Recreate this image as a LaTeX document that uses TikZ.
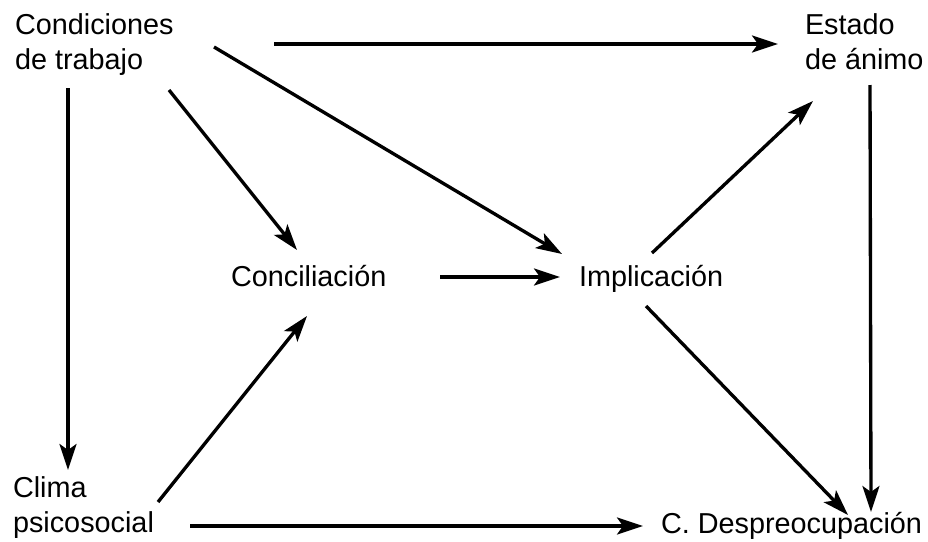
\documentclass[tikz,border=0pt]{standalone}
\usepackage{fontspec}
\setmainfont{Liberation Sans}
\usetikzlibrary{arrows.meta}

\begin{document}
\begin{tikzpicture}[x=0.02cm,y=-0.02cm,
    lbl/.style={inner sep=0pt,outer sep=0pt,align=left,
      font=\fontsize{16.4pt}{19.5pt}\selectfont},
    arr/.style={line width=1.9pt,
      -{Stealth[length=0.52cm,width=0.34cm,inset=0.12cm]}}]
\useasboundingbox (0,0) rectangle (928,541);
            % Vertices
\node[lbl,anchor=north west] (cond)   at (15,14)   {Condiciones\\de trabajo};
\node[lbl,anchor=north west] (estado) at (805,14)  {Estado\\de ánimo};
\node[lbl,anchor=base west]  (conc)   at (231,286) {Conciliación};
\node[lbl,anchor=base west]  (impl)   at (579,286) {Implicación};
\node[lbl,anchor=north west] (clima)  at (13,477)  {Clima\\psicosocial};
\node[lbl,anchor=base west]  (desp)   at (661,533) {C. Despreocupación};
%Edges from Condiciones
\draw[arr] ([shift={(259,30)}]cond.north west) -- ([shift={(-27,30)}]estado.north west);
\draw[arr] ([shift={(199,33)}]cond.north west) -- ([shift={(-17,-32)}]impl.base west);
\draw[arr] ([shift={(154,76)}]cond.north west) -- ([shift={(66,-36)}]conc.base west);
\draw[arr] ([shift={(53,74)}]cond.north west)  -- ([shift={(55,-7)}]clima.north west);
%Edges in the middle
\draw[arr] ([shift={(209,-9)}]conc.base west) -- ([shift={(-19,-9)}]impl.base west);
\draw[arr] ([shift={(73,-33)}]impl.base west) -- ([shift={(8,87)}]estado.north west);
\draw[arr] ([shift={(67,20)}]impl.base west)  -- ([shift={(187,-18)}]desp.base west);
%Edges to C. Despreocupacion
\draw[arr] ([shift={(65,71)}]estado.north west) -- ([shift={(210,-21)}]desp.base west);
\draw[arr] ([shift={(145,25)}]clima.north west) -- ([shift={(76,30)}]conc.base west);
\draw[arr] ([shift={(177,49)}]clima.north west) -- ([shift={(-18,-7)}]desp.base west);
          \end{tikzpicture}
\end{document}
